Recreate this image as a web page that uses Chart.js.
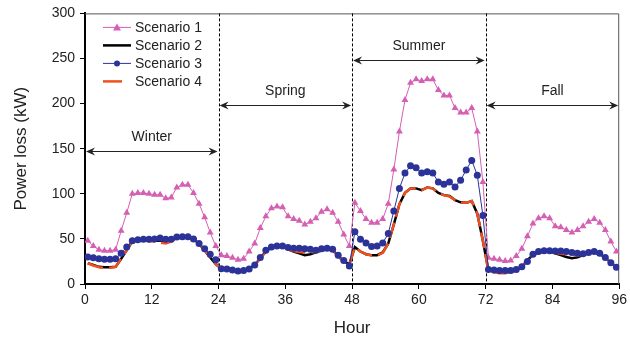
<!DOCTYPE html>
<html>
<head>
<meta charset="utf-8">
<script src="https://cdn.jsdelivr.net/npm/chart.js@4"></script>
<style>
  html, body { margin: 0; padding: 0; background: #fff; }
  canvas { display: block; }
</style>
</head>
<body>
<canvas id="lossChart" width="630" height="341"></canvas>
<script>
// power loss (kW) for each hour of the four representative days
const scenario1 = [
  48, 42, 38, 37, 37, 38, 59, 79, 100, 101, 101, 100, 99, 99, 95, 96, 107, 110, 110, 101, 89, 74, 57, 42,
  32, 31, 29, 27, 28, 36, 45, 62, 75, 84, 86, 85, 75, 72, 70, 66, 69, 73, 80, 83, 79, 69, 55, 42,
  90, 81, 72, 68, 68, 72, 89, 127, 169, 204, 223, 227, 225, 227, 227, 215, 209, 209, 195, 190, 190, 195, 169, 113,
  29, 28, 27, 25.5, 26, 31, 39, 53, 67, 73, 75, 73, 64, 63, 60, 57, 60, 64, 69, 72, 68, 60, 47, 36
];
const scenario2 = [
  23, 21, 19, 18.5, 18.5, 19, 28, 37.5, 47, 48.5, 48.5, 48, 48, 48, 47.5, 48, 51.5, 52, 52, 50, 44.5, 37.5, 29.5, 22,
  17, 16.5, 15.5, 15, 15.5, 17, 21, 28.5, 36, 40.5, 42, 42, 38.5, 36, 34, 32, 33, 35, 37, 38.5, 37.5, 31, 25, 22,
  41, 36, 33, 32, 32, 35, 45, 66, 88.5, 101, 106, 106, 104, 107, 106, 101, 98.5, 97.5, 93, 90.5, 90, 92, 78, 48,
  15, 14, 13, 13, 13.5, 15, 19, 26.5, 32, 34.5, 36, 36, 34, 32, 30, 28.5, 29.5, 32, 34, 35, 33, 29.5, 23.5, 18.5
];
const scenario3 = [
  30, 29, 28, 27.5, 27.5, 28, 34, 41, 48, 49, 49.5, 49.5, 50, 51, 49.5, 49.5, 52, 52.5, 52.5, 50, 45, 39, 33, 27,
  17, 16.5, 15.5, 14.5, 15, 16.5, 21, 29.5, 37.5, 41, 42, 42, 40.5, 39.5, 39.5, 39, 38.5, 37.5, 39, 39.5, 38.5, 32, 26, 20,
  58, 49.5, 45.5, 41.5, 42, 45.5, 56, 81, 106, 123, 131, 129, 123, 124.5, 123, 113, 110.5, 113, 107.5, 115, 126.5, 137, 120.5, 76,
  16, 15.5, 15, 15, 15, 16, 19, 25, 33, 36, 37, 37, 36.5, 36.5, 36, 35, 34, 33.5, 35, 36, 34, 29.5, 23.5, 18.5
];
const scenario4 = [
  23, 20.5, 18.5, 18, 18, 19, 28, 37.5, 47, 48.5, 48.5, 47.5, 47, 46, 45, 47, 51.5, 52, 52, 50, 44.5, 37.5, 29.5, 22,
  17, 16, 15, 14.5, 15, 17, 21, 28.5, 36, 40.5, 42, 42, 38, 36.5, 35.5, 35, 35, 35.5, 37, 38.5, 37.5, 31, 25, 21.5,
  41, 36, 33, 31.5, 31.5, 34.5, 45, 66, 88.5, 101, 106, 106, 104, 107, 106, 101, 98.5, 97, 93, 90.5, 90, 92, 78, 48,
  14, 13, 12, 12, 13, 15, 19, 26.5, 32, 34.5, 36, 36, 34.5, 33.5, 33, 32.5, 31.5, 32.5, 34, 35, 33, 29.5, 23.5, 18.5
];

const seriesNames = ['Scenario 1', 'Scenario 2', 'Scenario 3', 'Scenario 4'];
const seasons = ['Winter', 'Spring', 'Summer', 'Fall'];
const seasonStart = [0, 24, 48, 72];
const seasonArrowAt = [147, 198, 248, 198];   // kW level of each double arrow
const hourTicks = [0, 12, 24, 36, 48, 60, 72, 84, 96];

const PINK = '#d55fb3', BLACK = '#000000', BLUE = '#2b3399', ORANGE = '#f0501e';
const FONT = "'Liberation Sans', Arial, sans-serif";

// each hourly value sits in the middle of its hour
function toPoints(values) {
  return values.map((v, i) => ({ x: i + 0.5, y: v }));
}

// arrowhead (stealth style) pointing in direction dir (-1 left, +1 right)
function arrowHead(ctx, x, y, dir) {
  ctx.beginPath();
  ctx.moveTo(x, y);
  ctx.lineTo(x - dir * 9, y - 4);
  ctx.lineTo(x - dir * 6, y);
  ctx.lineTo(x - dir * 9, y + 4);
  ctx.closePath();
  ctx.fill();
}

const decorations = {
  id: 'decorations',
  beforeDatasetsDraw(chart) {
    const { ctx, chartArea: a, scales: { x } } = chart;
    ctx.save();
    // frame top and right
    ctx.strokeStyle = '#555';
    ctx.lineWidth = 1;
    ctx.beginPath();
    ctx.moveTo(a.left, a.top + 0.5);
    ctx.lineTo(a.right - 0.5, a.top + 0.5);
    ctx.lineTo(a.right - 0.5, a.bottom);
    ctx.stroke();
    // dotted season separators
    ctx.strokeStyle = '#000';
    ctx.setLineDash([3, 2]);
    seasonStart.slice(1).forEach(h => {
      const px = Math.round(x.getPixelForValue(h)) + 0.5;
      ctx.beginPath();
      ctx.moveTo(px, a.top);
      ctx.lineTo(px, a.bottom);
      ctx.stroke();
    });
    ctx.restore();
  },
  afterDatasetsDraw(chart) {
    const { ctx, chartArea: a, scales: { x, y } } = chart;
    ctx.save();
    // season arrows and labels
    ctx.strokeStyle = '#222';
    ctx.fillStyle = '#222';
    ctx.lineWidth = 1;
    ctx.font = '14px ' + FONT;
    ctx.textAlign = 'center';
    ctx.textBaseline = 'middle';
    seasons.forEach((name, i) => {
      const x0 = x.getPixelForValue(seasonStart[i]) + 1;
      const x1 = x.getPixelForValue(seasonStart[i] + 24) - 1;
      const py = Math.round(y.getPixelForValue(seasonArrowAt[i])) + 0.5;
      ctx.beginPath();
      ctx.moveTo(x0 + 4, py);
      ctx.lineTo(x1 - 4, py);
      ctx.stroke();
      arrowHead(ctx, x0, py, -1);
      arrowHead(ctx, x1, py, 1);
      ctx.fillText(name, (x0 + x1) / 2, py - 14);
    });

    // legend in the upper left corner
    const lx = a.left + 18, ly = a.top + 14, rowH = 18;
    ctx.textAlign = 'left';
    seriesNames.forEach((name, i) => {
      const ds = chart.data.datasets[i];
      const yy = ly + i * rowH;
      ctx.strokeStyle = ds.borderColor;
      ctx.lineWidth = ds.borderWidth;
      ctx.setLineDash([]);
      ctx.beginPath();
      ctx.moveTo(lx, yy);
      ctx.lineTo(i === 3 ? lx + 19 : lx + 28, yy);
      ctx.stroke();
      if (ds.pointRadius > 0) {
        ctx.fillStyle = ds.borderColor;
        if (ds.pointStyle === 'triangle') {
          ctx.beginPath();
          ctx.moveTo(lx + 14, yy - 4);
          ctx.lineTo(lx + 18, yy + 3);
          ctx.lineTo(lx + 10, yy + 3);
          ctx.closePath();
          ctx.fill();
        } else {
          ctx.beginPath();
          ctx.arc(lx + 14, yy, 3, 0, Math.PI * 2);
          ctx.fill();
        }
      }
      ctx.fillStyle = '#222';
      ctx.fillText(name, lx + 32, yy + 1);
    });
    ctx.restore();
  }
};

new Chart(document.getElementById('lossChart'), {
  type: 'line',
  data: {
    datasets: [
      {
        label: seriesNames[0], data: toPoints(scenario1),
        borderColor: PINK, backgroundColor: PINK, borderWidth: 1,
        pointStyle: 'triangle', pointRadius: 4, pointBorderWidth: 0,
        order: 4
      },
      {
        label: seriesNames[1], data: toPoints(scenario2),
        borderColor: BLACK, backgroundColor: BLACK, borderWidth: 2.5,
        pointRadius: 0, order: 3
      },
      {
        label: seriesNames[2], data: toPoints(scenario3),
        borderColor: BLUE, backgroundColor: BLUE, borderWidth: 1,
        pointStyle: 'circle', pointRadius: 3.5, pointBorderWidth: 0,
        order: 1
      },
      {
        label: seriesNames[3], data: toPoints(scenario4),
        borderColor: ORANGE, backgroundColor: ORANGE, borderWidth: 2.5,
        borderDash: [16, 6], pointRadius: 0, order: 2
      }
    ]
  },
  options: {
    responsive: false,
    animation: false,
    devicePixelRatio: 1,
    layout: { padding: { top: 13, right: 10, left: 0, bottom: 0 } },
    plugins: { legend: { display: false }, tooltip: { enabled: false } },
    elements: { line: { tension: 0 } },
    scales: {
      x: {
        type: 'linear', min: 0, max: 96,
        afterBuildTicks: s => { s.ticks = hourTicks.map(v => ({ value: v })); },
        afterFit: s => { s.height = 57; },
        ticks: { color: '#222', font: { family: FONT, size: 14 }, padding: 3, maxRotation: 0 },
        grid: { drawOnChartArea: false, tickLength: 5, tickColor: '#000', tickWidth: 1 },
        border: { color: '#000', width: 2 },
        title: { display: true, text: 'Hour', color: '#222', font: { family: FONT, size: 17 }, padding: { top: 0, bottom: 2 } }
      },
      y: {
        min: 0, max: 300,
        afterFit: s => { s.width = 85; },
        ticks: { stepSize: 50, color: '#222', font: { family: FONT, size: 14 }, padding: 5 },
        grid: { drawOnChartArea: false, tickLength: 5, tickColor: '#000', tickWidth: 1 },
        border: { color: '#000', width: 2 },
        title: { display: true, text: 'Power loss (kW)', color: '#222', font: { family: FONT, size: 17 }, padding: { top: 11, bottom: 0 } }
      }
    }
  },
  plugins: [decorations]
});
</script>
</body>
</html>
